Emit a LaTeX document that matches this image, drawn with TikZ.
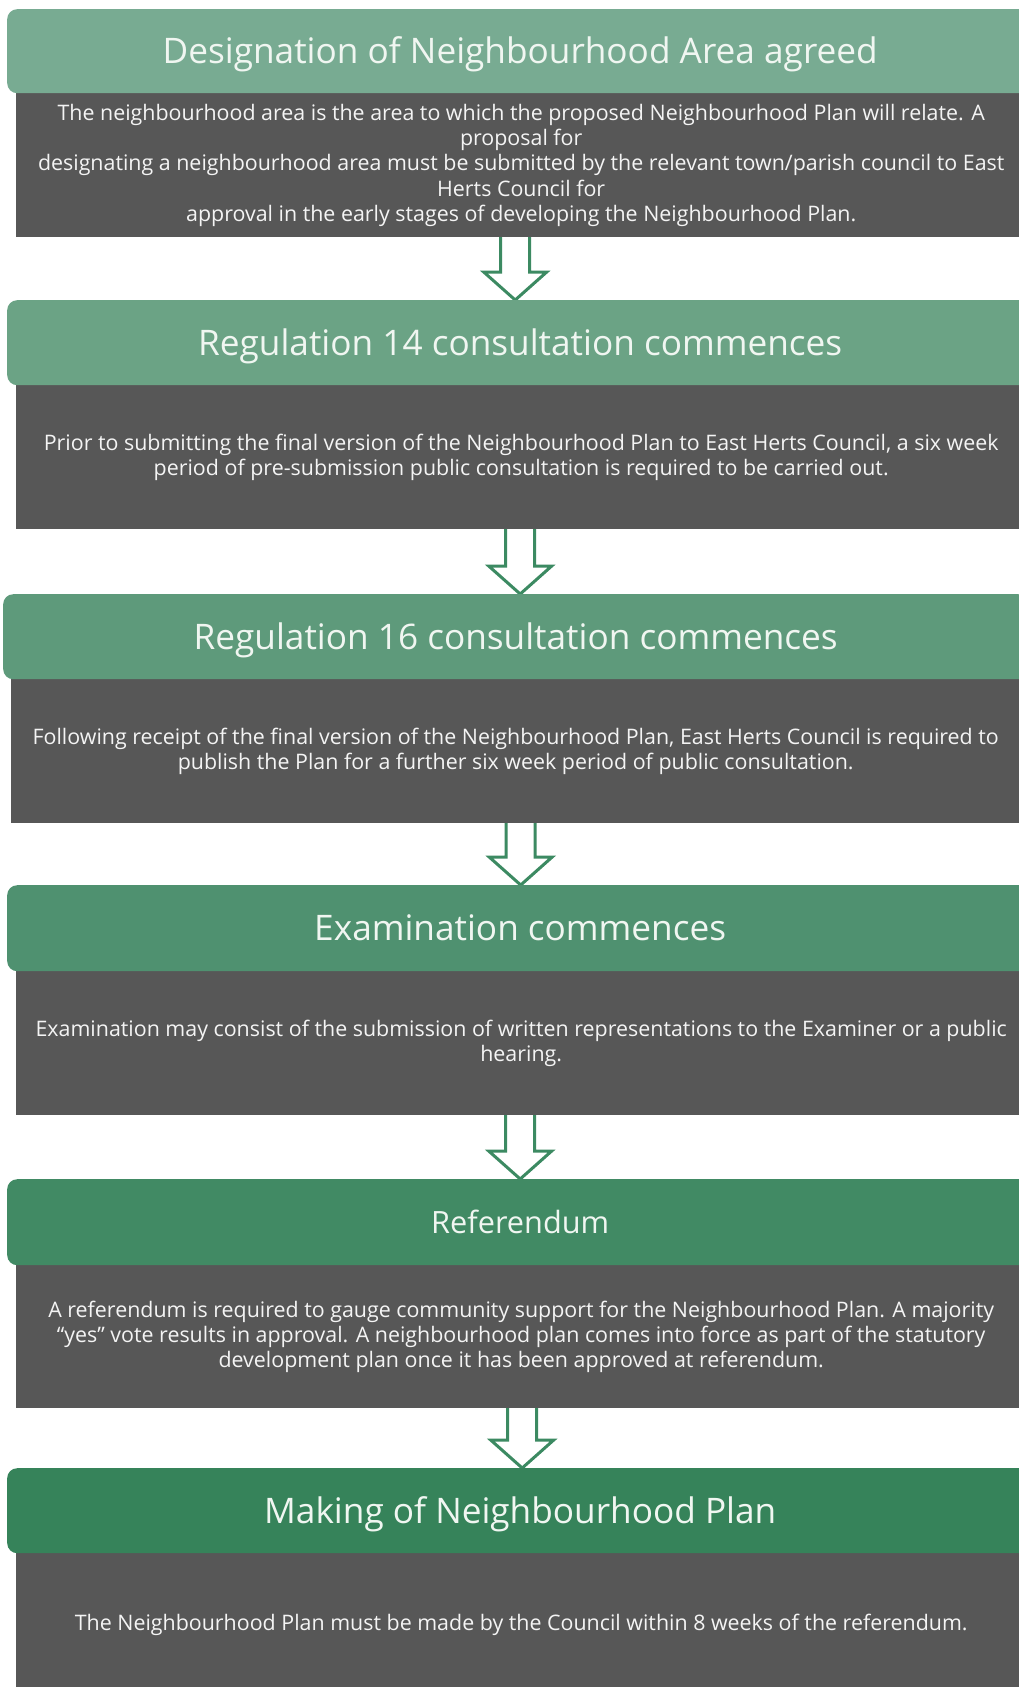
\documentclass[tikz,border=0pt]{standalone}
\usepackage{fontspec}
\setmainfont{Open Sans}
\usetikzlibrary{calc}
\pgfdeclarelayer{bg}
\pgfsetlayers{bg,main}
\definecolor{hA}{HTML}{78AB92}
\definecolor{hB}{HTML}{6BA385}
\definecolor{hC}{HTML}{5E9A7B}
\definecolor{hD}{HTML}{4F9170}
\definecolor{hE}{HTML}{418A64}
\definecolor{hF}{HTML}{36835A}
\definecolor{bodygrey}{HTML}{575757}
\definecolor{hdrtext}{HTML}{F0F6F1}
\definecolor{bodytext}{HTML}{F4F4F4}
\definecolor{arrowgreen}{HTML}{3C8A62}
\newcommand\blockarrow[3]{%
  \begin{pgfonlayer}{bg}
  \draw[blk] let \p1=($(#1.south)+(#3,0)$), \p2=(#2.north) in
    (\x1-14.5pt,\y1+3pt) -- (\x1-14.5pt,\y2+28pt) -- (\x1-31.5pt,\y2+28pt) -- (\x1,\y2)
    -- (\x1+31.5pt,\y2+28pt) -- (\x1+14.5pt,\y2+28pt) -- (\x1+14.5pt,\y1+3pt) -- cycle;
  \end{pgfonlayer}}
\begin{document}
\begin{tikzpicture}[x=1pt,y=-1pt,
  hdr/.style={rectangle, rounded corners=10pt, anchor=north west, inner sep=0pt,
    text=hdrtext, font=\fontsize{35.2}{40}\selectfont, text depth=2pt},
  bodybox/.style={rectangle, fill=bodygrey, anchor=north west, inner sep=0pt,
    text=bodytext, align=center, font=\fontsize{21.4}{25.3}\selectfont},
  blk/.style={draw=arrowgreen, line width=3pt, fill=white, line join=miter}]
\useasboundingbox (0,0) rectangle (1019,1687);
\begin{pgfonlayer}{bg}
\fill[white] (0,0) rectangle (1019,1687);
\end{pgfonlayer}
\clip (0,0) rectangle (1019,1687);
% bodies
\node[bodybox, minimum width=1010pt, minimum height=144pt] (b1) at (16,93)
 {The neighbourhood area is the area to which the proposed Neighbourhood Plan will relate. A\\
  proposal for\\
  designating a neighbourhood area must be submitted by the relevant town/parish council to East\\
  Herts Council for\\
  approval in the early stages of developing the Neighbourhood Plan.};
\node[bodybox, minimum width=1010pt, minimum height=144pt] (b2) at (16,385)
 {Prior to submitting the final version of the Neighbourhood Plan to East Herts Council, a six week\\
  period of pre-submission public consultation is required to be carried out.};
\node[bodybox, minimum width=1009pt, minimum height=144pt] (b3) at (11,679)
 {Following receipt of the final version of the Neighbourhood Plan, East Herts Council is required to\\
  publish the Plan for a further six week period of public consultation.};
\node[bodybox, minimum width=1010pt, minimum height=144pt] (b4) at (16,971)
 {Examination may consist of the submission of written representations to the Examiner or a public\\
  hearing.};
\node[bodybox, minimum width=1010pt, minimum height=143pt] (b5) at (16,1265)
 {A referendum is required to gauge community support for the Neighbourhood Plan. A majority\\
  “yes” vote results in approval. A neighbourhood plan comes into force as part of the statutory\\
  development plan once it has been approved at referendum.};
\node[bodybox, minimum width=1010pt, minimum height=144pt] (b6) at (16,1553)
 {The Neighbourhood Plan must be made by the Council within 8 weeks of the referendum.};
% headers
\node[hdr, fill=hA, minimum width=1026pt, minimum height=84pt] (h1) at (7,9)
 {Designation of Neighbourhood Area agreed};
\node[hdr, fill=hB, minimum width=1026pt, minimum height=85pt] (h2) at (7,300)
 {Regulation 14 consultation commences};
\node[hdr, fill=hC, minimum width=1025pt, minimum height=85pt] (h3) at (3,594)
 {Regulation 16 consultation commences};
\node[hdr, fill=hD, minimum width=1026pt, minimum height=86pt] (h4) at (7,885)
 {Examination commences};
\node[hdr, fill=hE, minimum width=1026pt, minimum height=86pt, font=\fontsize{30.7}{35}\selectfont, text depth=0pt] (h5) at (7,1179)
 {Referendum};
\node[hdr, fill=hF, minimum width=1026pt, minimum height=85pt] (h6) at (7,1468)
 {Making of Neighbourhood Plan};
% arrows
\blockarrow{b1}{h2}{-6}
\blockarrow{b2}{h3}{-1}
\blockarrow{b3}{h4}{5}
\blockarrow{b4}{h5}{-1}
\blockarrow{b5}{h6}{1}
\end{tikzpicture}
\end{document}
